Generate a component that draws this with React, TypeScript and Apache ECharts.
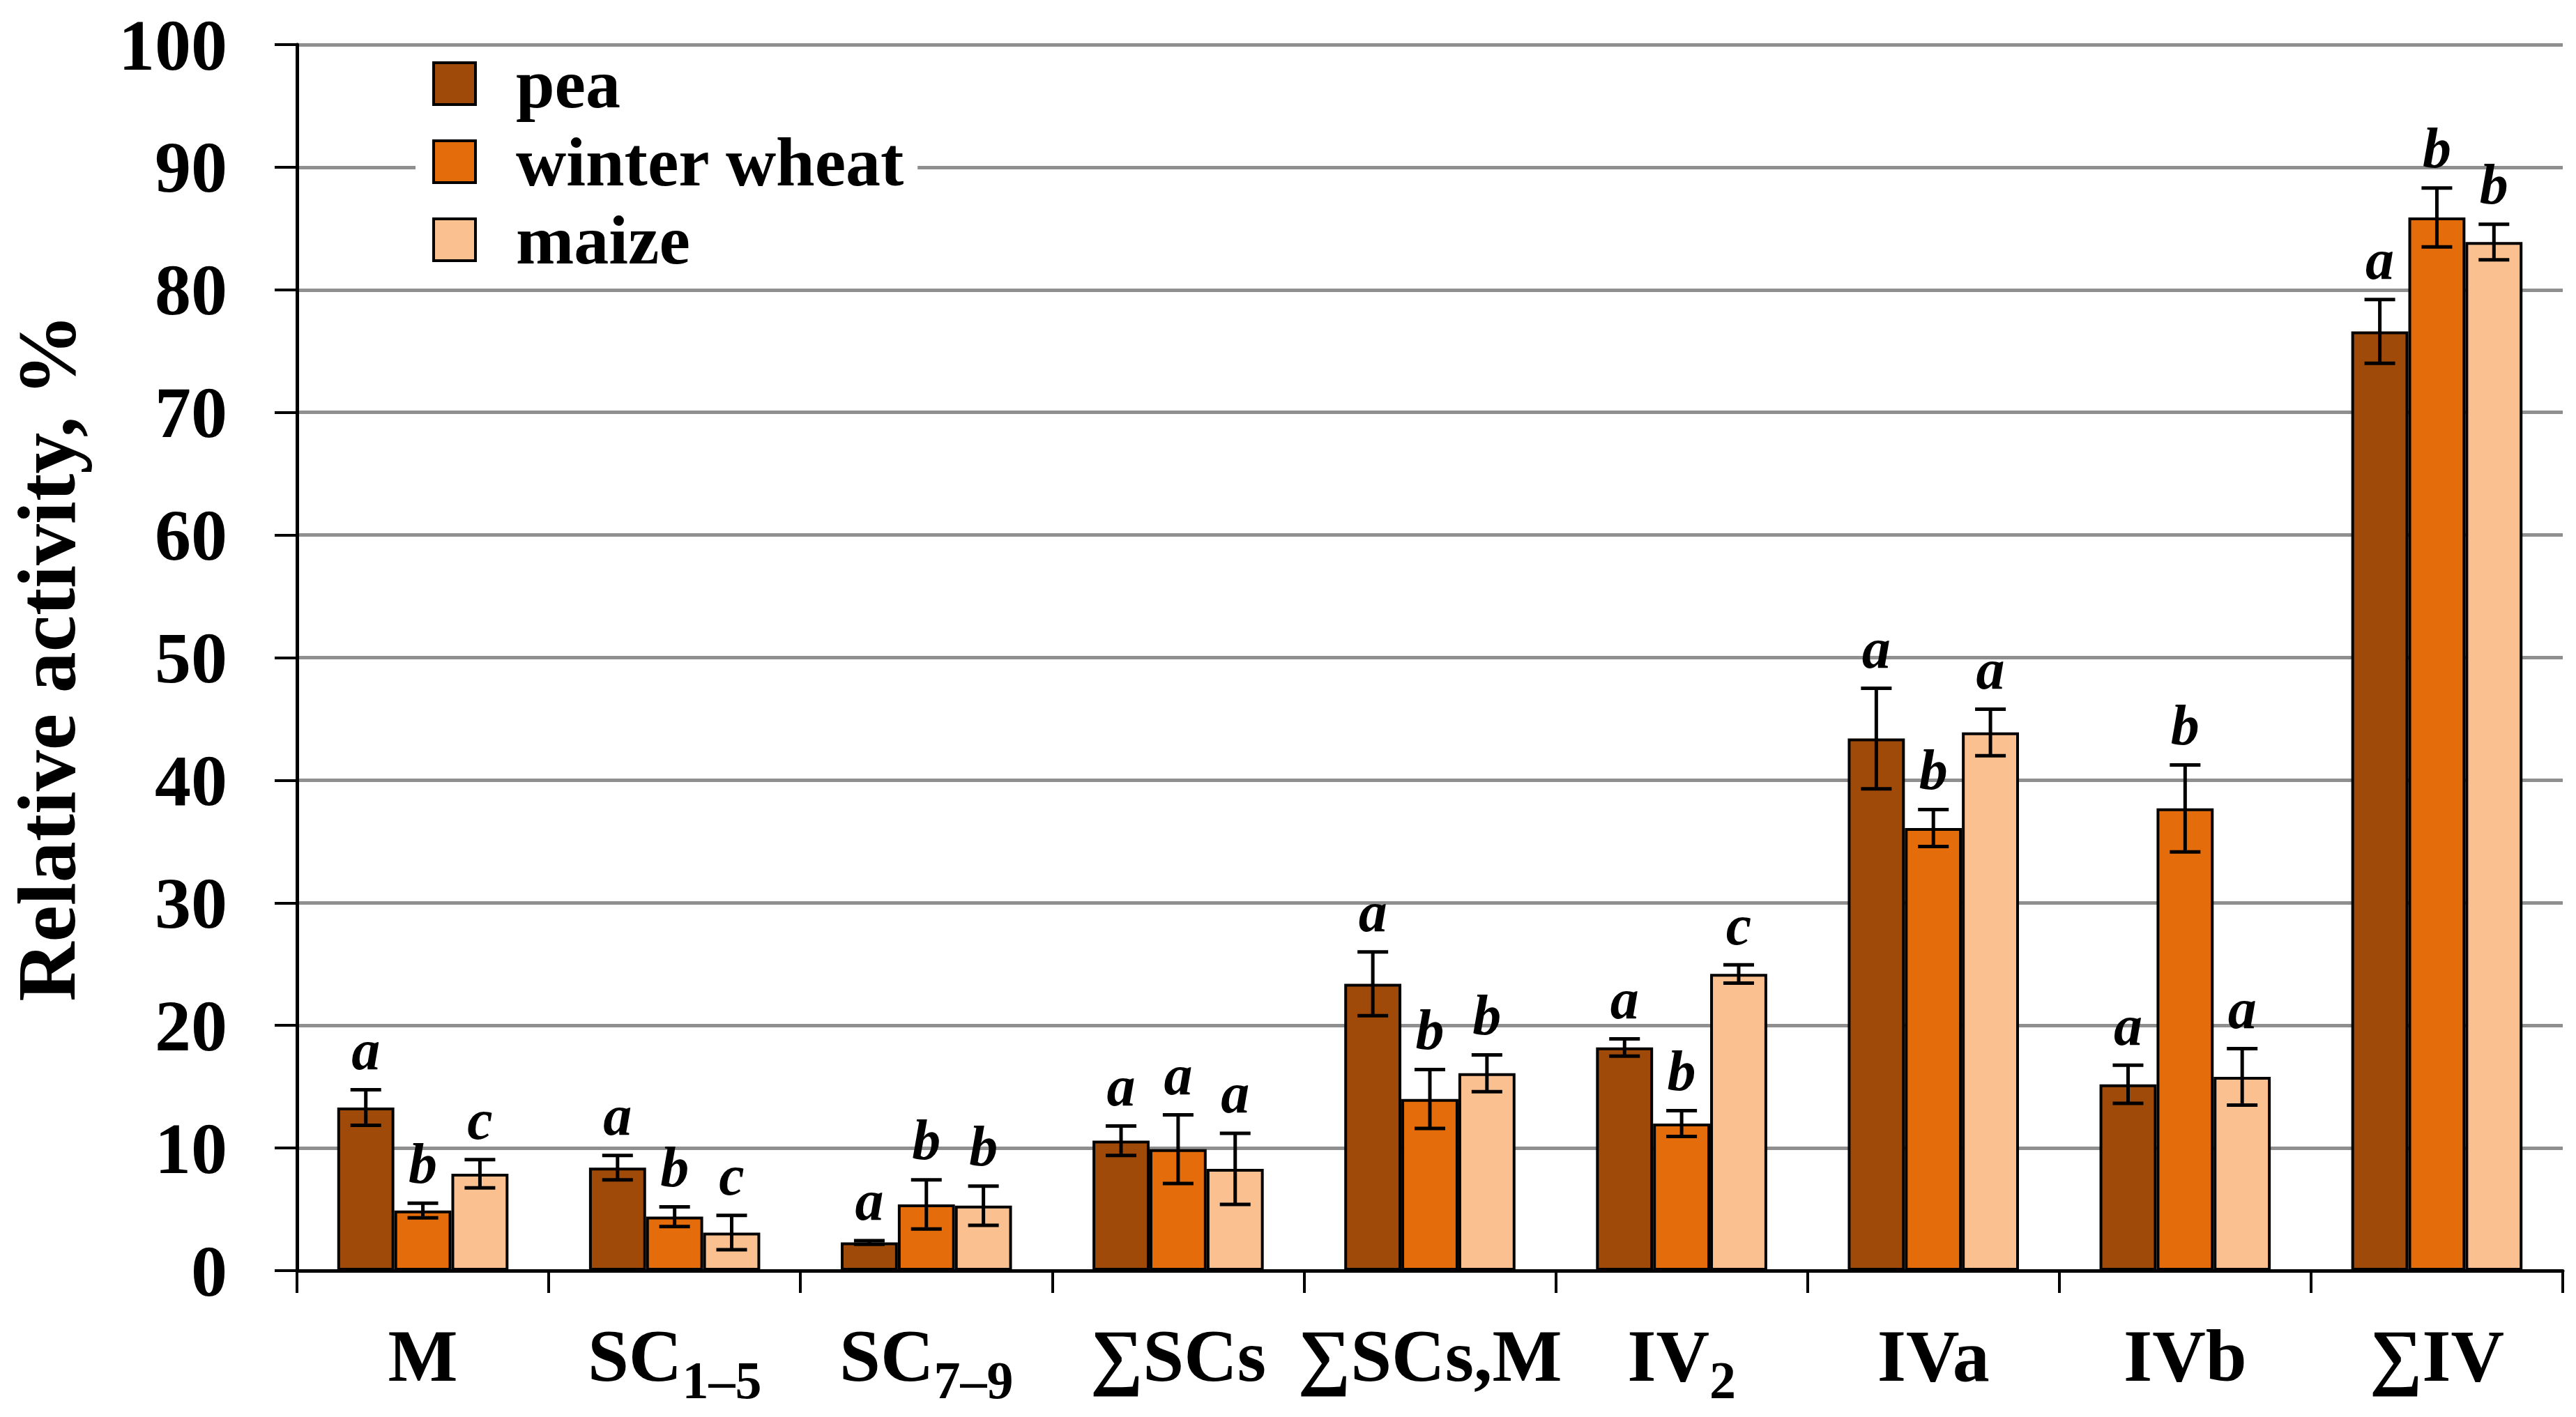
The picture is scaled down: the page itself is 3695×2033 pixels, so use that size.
import React, { useEffect, useRef } from 'react';
import * as echarts from 'echarts';

// categories, "_" marks the start of a subscript
const categories = ['M', 'SC_1–5', 'SC_7–9', '∑SCs', '∑SCs,M', 'IV_2', 'IVa', 'IVb', '∑IV'];

const seriesNames = ['pea', 'winter wheat', 'maize'];

const peaValues = [13.3, 8.4, 2.3, 10.6, 23.4, 18.2, 43.4, 15.2, 76.6];
const peaErrors = [1.45, 1.0, 0.15, 1.2, 2.6, 0.7, 4.1, 1.55, 2.6];
const peaLetters = ['a', 'a', 'a', 'a', 'a', 'a', 'a', 'a', 'a'];

const wheatValues = [4.9, 4.4, 5.4, 9.9, 14.0, 12.0, 36.1, 37.7, 85.9];
const wheatErrors = [0.6, 0.8, 2.0, 2.8, 2.4, 1.05, 1.5, 3.55, 2.4];
const wheatLetters = ['b', 'b', 'b', 'a', 'b', 'b', 'b', 'b', 'b'];

const maizeValues = [7.9, 3.1, 5.3, 8.3, 16.1, 24.2, 43.9, 15.8, 83.9];
const maizeErrors = [1.15, 1.4, 1.6, 2.9, 1.5, 0.75, 1.9, 2.3, 1.45];
const maizeLetters = ['c', 'c', 'b', 'a', 'b', 'c', 'a', 'a', 'b'];

const yTicks = { min: 0, max: 100, interval: 10 };

const colors = ['#A04A0A', '#E46C0A', '#FAC090'];
const FONT = "'Liberation Serif', 'Times New Roman', serif";
const CATEGORY_GAP = 0.32;

const values = [peaValues, wheatValues, maizeValues];
const errors = [peaErrors, wheatErrors, maizeErrors];
const letters = [peaLetters, wheatLetters, maizeLetters];

const formatCategory = (name: string) => {
  const [main, sub] = name.split('_');
  return sub ? `{m|${main}}{s|${sub}}` : `{m|${main}}`;
};

const makeErrorSeries = (k: number) => ({
  name: seriesNames[k] + ' error',
  type: 'custom',
  z: 3,
  clip: false,
  encode: { x: 0, y: 1 },
  data: categories.map((_, i) => [i, values[k][i], errors[k][i]]),
  renderItem: (params: any, api: any) => {
    const cat = api.value(0);
    const v = api.value(1);
    const e = api.value(2);
    const band = api.size([1, 0])[0];
    const bw = (band * (1 - CATEGORY_GAP)) / 3;
    const cx = api.coord([cat, v])[0] + (k - 1) * bw;
    const yTop = api.coord([cat, v + e])[1];
    const yBot = api.coord([cat, v - e])[1];
    const cap = 22;
    const stroke = { stroke: '#000', lineWidth: 5 };
    return {
      type: 'group',
      children: [
        { type: 'line', shape: { x1: cx, y1: yTop, x2: cx, y2: yBot }, style: stroke },
        { type: 'line', shape: { x1: cx - cap, y1: yTop, x2: cx + cap, y2: yTop }, style: stroke },
        { type: 'line', shape: { x1: cx - cap, y1: yBot, x2: cx + cap, y2: yBot }, style: stroke },
        {
          type: 'text',
          x: cx,
          y: yTop - 16,
          style: {
            text: letters[k][params.dataIndex],
            fill: '#000',
            fontFamily: FONT,
            fontSize: 82,
            fontStyle: 'italic',
            fontWeight: 'bold',
            align: 'center',
            verticalAlign: 'bottom',
          },
        },
      ],
    };
  },
});

export default function App() {
  const chartRef = useRef<HTMLDivElement>(null);

  useEffect(() => {
    if (!chartRef.current) return;
    document.body.style.margin = '0';
    const chart = echarts.init(chartRef.current, undefined, { renderer: 'svg' });

    const option: any = {
      animation: false,
      backgroundColor: '#fff',
      grid: { left: 420, right: 19, top: 64, bottom: 210 },
      legend: {
        data: seriesNames,
        orient: 'vertical',
        left: 596,
        top: 70,
        itemWidth: 60,
        itemHeight: 60,
        itemGap: 12,
        icon: 'rect',
        backgroundColor: '#fff',
        padding: [0, 18, 0, 24],
        itemStyle: { borderColor: '#000', borderWidth: 4 },
        textStyle: {
          fontFamily: FONT,
          fontSize: 100,
          fontWeight: 'bold',
          color: '#000',
          lineHeight: 100,
          padding: [0, 0, 0, 53],
        },
      },
      xAxis: {
        type: 'category',
        data: categories,
        axisLine: { lineStyle: { color: '#000', width: 5 } },
        axisTick: { show: true, inside: false, length: 32, interval: 0, lineStyle: { color: '#000', width: 4 } },
        axisLabel: {
          interval: 0,
          margin: 62,
          formatter: formatCategory,
          rich: {
            m: { fontFamily: FONT, fontSize: 106, fontWeight: 'bold', color: '#000', lineHeight: 120 },
            s: {
              fontFamily: FONT,
              fontSize: 76,
              fontWeight: 'bold',
              color: '#000',
              lineHeight: 40,
              padding: [70, 0, 0, 0],
            },
          },
        },
      },
      yAxis: {
        type: 'value',
        min: yTicks.min,
        max: yTicks.max,
        interval: yTicks.interval,
        name: 'Relative activity, %',
        nameLocation: 'middle',
        nameGap: 300,
        nameTextStyle: { fontFamily: FONT, fontSize: 118, fontWeight: 'bold', color: '#000' },
        axisLine: { show: true, lineStyle: { color: '#000', width: 5 } },
        axisTick: { show: true, inside: false, length: 32, lineStyle: { color: '#000', width: 4 } },
        axisLabel: { margin: 100, fontFamily: FONT, fontSize: 104, fontWeight: 'bold', color: '#000' },
        splitLine: { show: true, lineStyle: { color: '#8f8f8f', width: 5 } },
      },
      series: [
        ...seriesNames.map((name, k) => ({
          name,
          type: 'bar',
          data: values[k],
          barGap: '0%',
          barCategoryGap: `${CATEGORY_GAP * 100}%`,
          itemStyle: { color: colors[k], borderColor: '#000', borderWidth: 4 },
        })),
        ...seriesNames.map((_, k) => makeErrorSeries(k)),
      ],
    };

    chart.setOption(option);
    return () => chart.dispose();
  }, []);

  return <div ref={chartRef} style={{ width: 3695, height: 2033 }} />;
}
